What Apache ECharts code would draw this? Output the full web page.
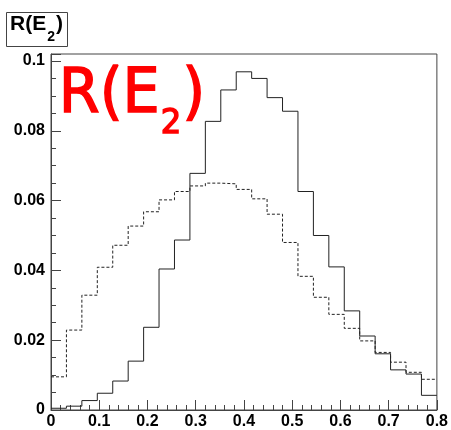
<!DOCTYPE html>
<html><head><meta charset="utf-8">
<script src="https://cdn.jsdelivr.net/npm/echarts@6/dist/echarts.min.js"></script>
<style>html,body{margin:0;padding:0;background:#fff}#c{width:451px;height:430px}</style>
</head><body><div id="c"></div>
<script>
// bin edges (25 bins of width 0.032)
const binEdges = [0, 0.032, 0.064, 0.096, 0.128, 0.16, 0.192, 0.224, 0.256, 0.288, 0.32, 0.352, 0.384,
  0.416, 0.448, 0.48, 0.512, 0.544, 0.576, 0.608, 0.64, 0.672, 0.704, 0.736, 0.768, 0.8];
// solid histogram content per bin
const solidValues = [0.0005, 0.0011, 0.0027, 0.0048, 0.0083, 0.0140, 0.0237, 0.0404, 0.0487, 0.0678,
  0.0827, 0.0917, 0.0969, 0.0950, 0.0895, 0.0856, 0.0626, 0.0500, 0.0410, 0.0284, 0.0212, 0.0161,
  0.0115, 0.0103, 0.0042];
// dashed histogram content per bin
const dashedValues = [0.0095, 0.0229, 0.0329, 0.0409, 0.0472, 0.0527, 0.0568, 0.0602, 0.0626, 0.0642,
  0.0650, 0.0648, 0.0632, 0.0605, 0.0561, 0.0480, 0.0383, 0.0323, 0.0274, 0.0234, 0.0198, 0.0165,
  0.0137, 0.0108, 0.0088];
const yTickLabels = ['0', '0.02', '0.04', '0.06', '0.08', '0.1'];
const xTickLabels = ['0', '0.1', '0.2', '0.3', '0.4', '0.5', '0.6', '0.7', '0.8'];

function histPoints(vals) {
  const pts = vals.map((v, i) => [binEdges[i], v]);
  pts.push([binEdges[binEdges.length - 1], vals[vals.length - 1]]);
  return pts;
}
function pickLabel(list, v) {
  for (const s of list) { if (Math.abs(parseFloat(s) - v) < 1e-6) return s; }
  return '';
}

const axisColor = '#444';
const labelFont = { fontFamily: 'Liberation Sans', fontWeight: 'bold', fontSize: 16, color: '#000' };

const chart = echarts.init(document.getElementById('c'), null, { renderer: 'canvas' });
chart.setOption({
  animation: false,
  backgroundColor: '#fff',
  title: [{
    left: 6, top: 12,
    text: '{m|R(E}{s|2}{m|)}',
    padding: [2, 5, 3, 4],
    borderColor: '#444', borderWidth: 1,
    textStyle: {
      rich: {
        m: { fontFamily: 'Liberation Sans', fontWeight: 'bold', fontSize: 21, lineHeight: 28, verticalAlign: 'top', color: '#000' },
        s: { fontFamily: 'Liberation Sans', fontWeight: 'bold', fontSize: 14, lineHeight: 14, padding: [16, 1, 0, 1], verticalAlign: 'top', color: '#000' }
      }
    }
  }],
  graphic: [{
    type: 'text', left: 58, top: 64, scaleX: 0.95,
    style: {
      text: '{m|R(E}{s|2}{m|)}',
      fill: '#ff0000',
      rich: {
        m: { fontFamily: 'DejaVu Sans', fontSize: 62, lineHeight: 72, verticalAlign: 'top', fill: '#ff0000' },
        s: { fontFamily: 'DejaVu Sans', fontSize: 34, lineHeight: 34, padding: [42, 1, 0, 1], verticalAlign: 'top', fill: '#ff0000' }
      },
      stroke: '#ff0000', lineWidth: 1.5
    }
  }],
  grid: { left: 51, right: 11, top: 54, bottom: 20, show: true, borderColor: axisColor, borderWidth: 1, backgroundColor: '#fff' },
  xAxis: {
    type: 'value', min: 0, max: 0.8, interval: 0.1,
    axisLine: { show: true, lineStyle: { color: axisColor, width: 1 } },
    axisTick: { show: true, inside: true, length: 10, lineStyle: { color: axisColor } },
    minorTick: { show: true, splitNumber: 5, length: 5, lineStyle: { color: axisColor } },
    splitLine: { show: false },
    axisLabel: { ...labelFont, margin: 4, formatter: v => pickLabel(xTickLabels, v) }
  },
  yAxis: [{
    type: 'value', min: 0, max: 0.102, interval: 0.02,
    axisLine: { show: true, lineStyle: { color: axisColor, width: 1 } },
    axisTick: { show: true, inside: true, length: 10, lineStyle: { color: axisColor } },
    splitLine: { show: false },
    axisLabel: { ...labelFont, margin: 6, formatter: v => pickLabel(yTickLabels, v) }
  }, {
    type: 'value', min: 0, max: 0.102, interval: 0.005, position: 'left',
    axisLine: { show: false },
    axisTick: { show: true, inside: true, length: 5, lineStyle: { color: axisColor } },
    splitLine: { show: false },
    axisLabel: { show: false }
  }],
  series: [{
    type: 'line', name: 'solid', yAxisIndex: 0, step: 'end', symbol: 'none',
    data: histPoints(solidValues),
    lineStyle: { color: '#222', width: 1, type: 'solid' }
  }, {
    type: 'line', name: 'dashed', yAxisIndex: 0, step: 'end', symbol: 'none',
    data: histPoints(dashedValues),
    lineStyle: { color: '#222', width: 1, type: [3, 2] }
  }]
});
</script></body></html>
